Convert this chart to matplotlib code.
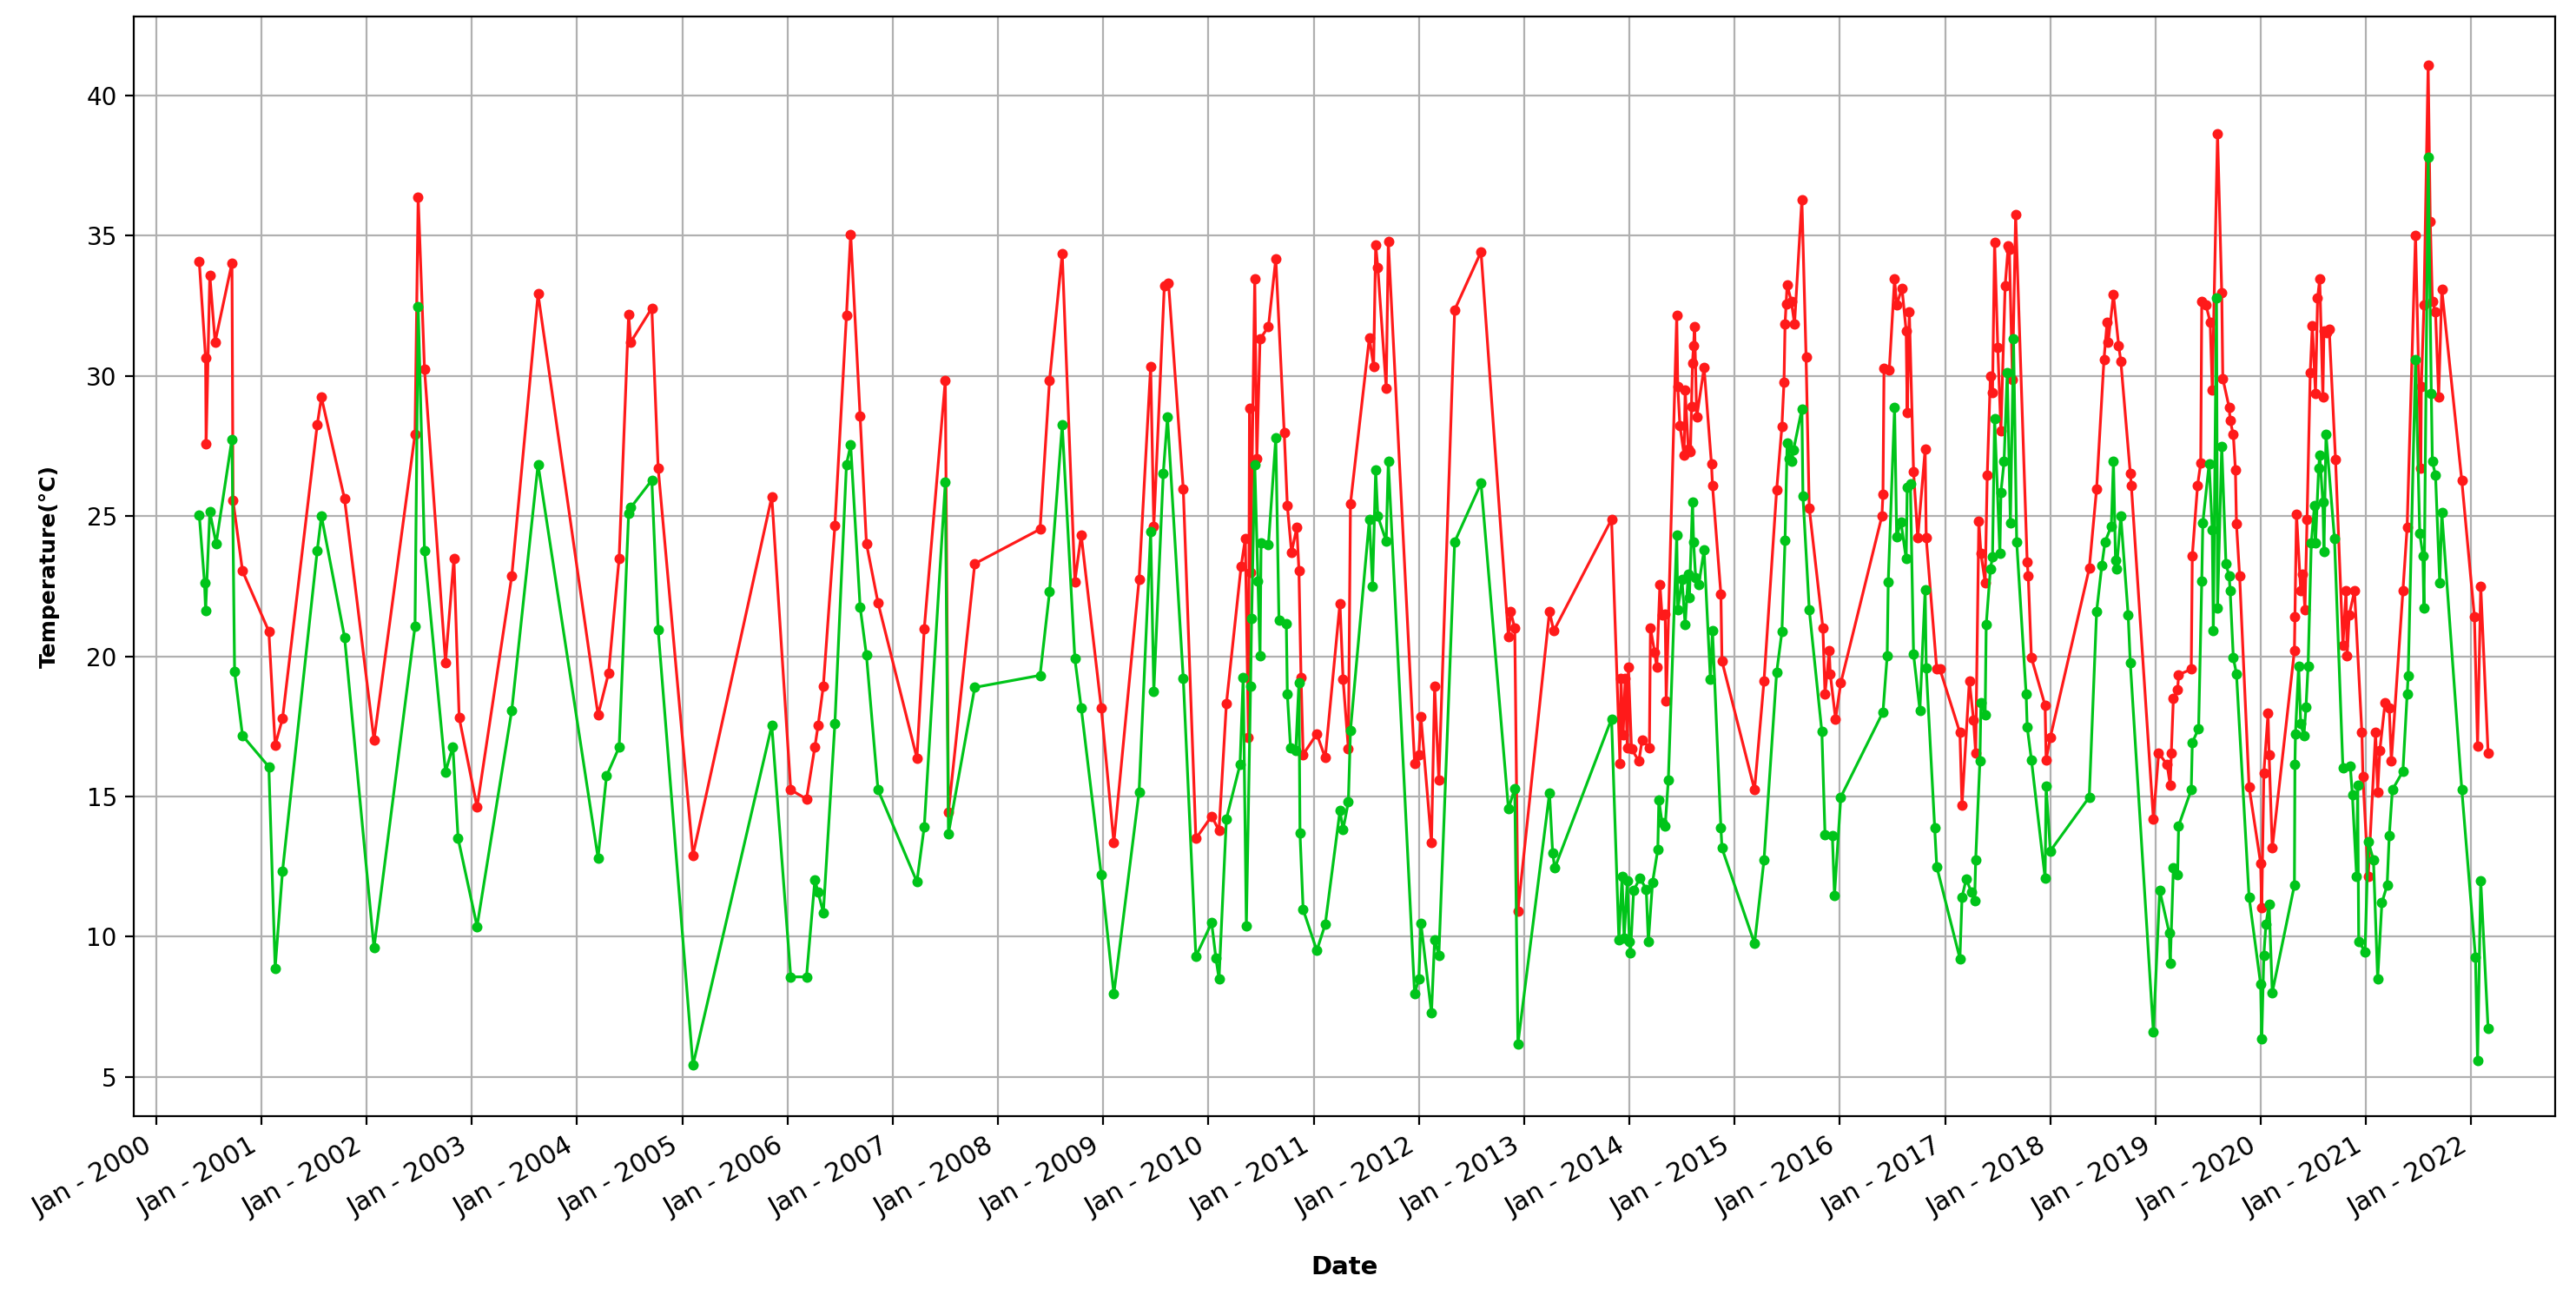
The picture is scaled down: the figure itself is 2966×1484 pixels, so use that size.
import numpy as np
import matplotlib
matplotlib.use("Agg")
import matplotlib.pyplot as plt
import matplotlib.dates as mdates
from datetime import datetime

# dates as decimal years
max_years = [2000.41, 2000.47, 2000.475, 2000.51, 2000.56, 2000.72, 2000.73, 2000.82, 2001.07, 2001.13,
             2001.20, 2001.53, 2001.57, 2001.79, 2002.07, 2002.46, 2002.49, 2002.55, 2002.75, 2002.83,
             2002.88, 2003.05, 2003.38, 2003.63, 2004.20, 2004.30, 2004.40, 2004.49, 2004.51, 2004.71,
             2004.77, 2005.10, 2005.85, 2006.03, 2006.18, 2006.26, 2006.29, 2006.34, 2006.45, 2006.56,
             2006.60, 2006.69, 2006.75, 2006.86, 2007.23, 2007.30, 2007.50, 2007.53, 2007.78, 2008.40,
             2008.49, 2008.61, 2008.73, 2008.79, 2008.98, 2009.10, 2009.34, 2009.45, 2009.48, 2009.58,
             2009.62, 2009.76, 2009.88, 2010.03, 2010.10, 2010.17, 2010.31, 2010.35, 2010.38, 2010.39,
             2010.40, 2010.44, 2010.46, 2010.49, 2010.57, 2010.64, 2010.72, 2010.75, 2010.79, 2010.84,
             2010.86, 2010.88, 2010.90, 2011.03, 2011.11, 2011.25, 2011.28, 2011.33, 2011.35, 2011.53,
             2011.57, 2011.59, 2011.61, 2011.69, 2011.71, 2011.96, 2012.00, 2012.02, 2012.12, 2012.15,
             2012.19, 2012.34, 2012.59, 2012.85, 2012.87, 2012.91, 2012.94, 2013.24, 2013.28, 2013.83,
             2013.91, 2013.92, 2013.94, 2013.96, 2013.98, 2013.99, 2014.02, 2014.09, 2014.12, 2014.19,
             2014.20, 2014.24, 2014.26, 2014.29, 2014.31, 2014.34, 2014.35, 2014.45, 2014.46, 2014.48,
             2014.52, 2014.53, 2014.56, 2014.58, 2014.59, 2014.60, 2014.61, 2014.62, 2014.64, 2014.71,
             2014.78, 2014.79, 2014.87, 2014.88, 2015.19, 2015.28, 2015.40, 2015.45, 2015.47, 2015.48,
             2015.49, 2015.50, 2015.54, 2015.57, 2015.64, 2015.68, 2015.71, 2015.84, 2015.86, 2015.90,
             2015.91, 2015.96, 2016.01, 2016.40, 2016.41, 2016.42, 2016.47, 2016.52, 2016.54, 2016.59,
             2016.63, 2016.64, 2016.66, 2016.70, 2016.74, 2016.81, 2016.82, 2016.92, 2016.95, 2017.14,
             2017.16, 2017.23, 2017.27, 2017.29, 2017.32, 2017.34, 2017.38, 2017.40, 2017.43, 2017.45,
             2017.47, 2017.50, 2017.53, 2017.57, 2017.60, 2017.61, 2017.64, 2017.67, 2017.78, 2017.79,
             2017.82, 2017.95, 2017.96, 2018.00, 2018.37, 2018.44, 2018.51, 2018.54, 2018.55, 2018.60,
             2018.65, 2018.67, 2018.76, 2018.77, 2018.98, 2019.03, 2019.11, 2019.14, 2019.15, 2019.17,
             2019.21, 2019.22, 2019.34, 2019.35, 2019.40, 2019.43, 2019.44, 2019.48, 2019.52, 2019.54,
             2019.59, 2019.63, 2019.64, 2019.70, 2019.71, 2019.74, 2019.76, 2019.77, 2019.80, 2019.89,
             2020.00, 2020.01, 2020.03, 2020.07, 2020.08, 2020.11, 2020.32, 2020.325, 2020.34, 2020.38,
             2020.40, 2020.42, 2020.44, 2020.47, 2020.49, 2020.52, 2020.54, 2020.56, 2020.59, 2020.60,
             2020.63, 2020.65, 2020.71, 2020.78, 2020.81, 2020.82, 2020.84, 2020.89, 2020.96, 2020.97,
             2021.02, 2021.09, 2021.11, 2021.13, 2021.18, 2021.22, 2021.24, 2021.35, 2021.39, 2021.47,
             2021.52, 2021.525, 2021.55, 2021.59, 2021.61, 2021.63, 2021.66, 2021.69, 2021.72, 2021.91,
             2022.03, 2022.06, 2022.09, 2022.16]
max_temp = [34.07, 30.64, 27.56, 33.59, 31.2, 34.02, 25.56, 23.04, 20.89, 16.83,
            17.78, 28.25, 29.23, 25.61, 17.01, 27.92, 36.38, 30.25, 19.78, 23.5,
            17.81, 14.62, 22.86, 32.92, 17.91, 19.4, 23.5, 32.18, 31.2, 32.41,
            26.71, 12.91, 25.69, 15.24, 14.91, 16.78, 17.53, 18.94, 24.66, 32.15,
            35.05, 28.56, 24.02, 21.91, 16.37, 20.99, 29.84, 14.45, 23.3, 24.53,
            29.84, 34.36, 22.66, 24.33, 18.17, 13.35, 22.74, 30.34, 24.64, 33.2,
            33.3, 25.97, 13.5, 14.3, 13.79, 18.3, 23.2, 24.2, 17.1, 28.83,
            23.0, 33.45, 27.06, 31.31, 31.75, 34.17, 27.99, 25.36, 23.71, 24.59,
            23.06, 19.25, 16.5, 17.23, 16.38, 21.89, 19.17, 16.7, 25.44, 31.36,
            30.34, 34.66, 33.86, 29.56, 34.78, 16.19, 16.5, 17.84, 13.35, 18.93,
            15.58, 32.35, 34.42, 20.7, 21.6, 21.0, 10.92, 21.6, 20.9, 24.88,
            16.19, 19.2, 17.2, 19.2, 16.75, 19.6, 16.7, 16.26, 17.0, 16.75,
            21.0, 20.15, 19.61, 22.57, 21.48, 21.5, 18.4, 32.16, 29.61, 28.23,
            27.18, 29.49, 27.4, 27.3, 28.9, 30.46, 31.07, 31.75, 28.52, 30.29,
            26.87, 26.09, 22.21, 19.83, 15.24, 19.13, 25.92, 28.2, 29.78, 31.84,
            32.57, 33.25, 32.65, 31.84, 36.29, 30.66, 25.29, 21.0, 18.64, 20.19,
            19.37, 17.77, 19.05, 25.0, 25.78, 30.27, 30.22, 33.45, 32.52, 33.13,
            31.6, 28.69, 32.28, 26.58, 24.22, 27.38, 24.22, 19.54, 19.54, 17.28,
            14.68, 19.13, 17.72, 16.55, 24.81, 23.67, 22.62, 26.46, 29.98, 29.4,
            34.76, 31.02, 28.03, 33.2, 34.64, 34.5, 29.85, 35.75, 23.35, 22.86,
            19.95, 18.25, 16.31, 17.11, 23.13, 25.97, 30.58, 31.92, 31.19, 32.89,
            31.07, 30.53, 26.53, 26.09, 14.2, 16.55, 16.14, 15.41, 16.55, 18.5,
            18.81, 19.34, 19.54, 23.59, 26.09, 26.89, 32.65, 32.52, 31.92, 29.49,
            38.64, 32.96, 29.9, 28.88, 28.4, 27.9, 26.65, 24.71, 22.86, 15.34,
            12.62, 11.04, 15.83, 17.96, 16.5, 13.16, 20.19, 21.4, 25.07, 22.33,
            22.94, 21.65, 24.88, 30.1, 31.8, 29.37, 32.77, 33.45, 29.25, 31.6,
            31.55, 31.67, 27.01, 20.39, 22.33, 20.02, 21.48, 22.33, 17.28, 15.7,
            12.14, 17.28, 15.17, 16.63, 18.33, 18.16, 16.26, 22.33, 24.59, 35.02,
            26.7, 29.61, 32.52, 41.07, 35.49, 32.65, 32.28, 29.25, 33.08, 26.26,
            21.41, 16.8, 22.5, 16.55]

min_years = [2000.41, 2000.46, 2000.47, 2000.51, 2000.57, 2000.72, 2000.745, 2000.82, 2001.07, 2001.13,
             2001.20, 2001.53, 2001.57, 2001.79, 2002.07, 2002.46, 2002.49, 2002.55, 2002.75, 2002.82,
             2002.87, 2003.05, 2003.38, 2003.63, 2004.20, 2004.28, 2004.40, 2004.49, 2004.51, 2004.71,
             2004.77, 2005.10, 2005.85, 2006.03, 2006.18, 2006.26, 2006.29, 2006.34, 2006.45, 2006.56,
             2006.60, 2006.69, 2006.75, 2006.86, 2007.23, 2007.30, 2007.50, 2007.53, 2007.78, 2008.40,
             2008.49, 2008.61, 2008.73, 2008.79, 2008.98, 2009.10, 2009.34, 2009.45, 2009.48, 2009.57,
             2009.61, 2009.76, 2009.88, 2010.03, 2010.07, 2010.10, 2010.17, 2010.30, 2010.33, 2010.36,
             2010.40, 2010.41, 2010.44, 2010.47, 2010.49, 2010.50, 2010.57, 2010.64, 2010.67, 2010.74,
             2010.75, 2010.78, 2010.83, 2010.86, 2010.87, 2010.90, 2011.03, 2011.11, 2011.25, 2011.28,
             2011.33, 2011.35, 2011.53, 2011.56, 2011.59, 2011.61, 2011.69, 2011.71, 2011.96, 2012.00,
             2012.02, 2012.12, 2012.15, 2012.19, 2012.34, 2012.59, 2012.85, 2012.91, 2012.94, 2013.24,
             2013.27, 2013.29, 2013.83, 2013.90, 2013.93, 2013.95, 2013.98, 2014.00, 2014.01, 2014.04,
             2014.10, 2014.16, 2014.18, 2014.22, 2014.27, 2014.28, 2014.31, 2014.34, 2014.37, 2014.45,
             2014.46, 2014.50, 2014.53, 2014.56, 2014.57, 2014.60, 2014.61, 2014.63, 2014.66, 2014.71,
             2014.77, 2014.79, 2014.87, 2014.88, 2015.19, 2015.28, 2015.40, 2015.45, 2015.48, 2015.50,
             2015.52, 2015.54, 2015.56, 2015.64, 2015.65, 2015.71, 2015.83, 2015.86, 2015.93, 2015.95,
             2016.01, 2016.41, 2016.45, 2016.46, 2016.52, 2016.54, 2016.58, 2016.63, 2016.64, 2016.67,
             2016.70, 2016.76, 2016.81, 2016.82, 2016.90, 2016.92, 2017.14, 2017.16, 2017.20, 2017.25,
             2017.28, 2017.29, 2017.33, 2017.34, 2017.38, 2017.39, 2017.43, 2017.45, 2017.47, 2017.52,
             2017.53, 2017.56, 2017.59, 2017.62, 2017.65, 2017.68, 2017.77, 2017.78, 2017.82, 2017.95,
             2017.96, 2018.00, 2018.37, 2018.44, 2018.49, 2018.52, 2018.58, 2018.60, 2018.62, 2018.63,
             2018.67, 2018.74, 2018.76, 2018.98, 2019.04, 2019.13, 2019.14, 2019.17, 2019.21, 2019.22,
             2019.34, 2019.35, 2019.41, 2019.44, 2019.45, 2019.51, 2019.54, 2019.55, 2019.58, 2019.59,
             2019.63, 2019.67, 2019.70, 2019.71, 2019.74, 2019.77, 2019.89, 2020.00, 2020.01, 2020.03,
             2020.05, 2020.08, 2020.11, 2020.32, 2020.325, 2020.33, 2020.36, 2020.38, 2020.41, 2020.43,
             2020.45, 2020.48, 2020.51, 2020.52, 2020.55, 2020.56, 2020.59, 2020.60, 2020.62, 2020.70,
             2020.78, 2020.85, 2020.87, 2020.91, 2020.92, 2020.93, 2020.99, 2021.02, 2021.07, 2021.11,
             2021.15, 2021.20, 2021.22, 2021.25, 2021.35, 2021.39, 2021.40, 2021.47, 2021.51, 2021.54,
             2021.55, 2021.59, 2021.62, 2021.63, 2021.66, 2021.70, 2021.72, 2021.91, 2022.04, 2022.06,
             2022.09, 2022.16]
min_temp = [25.04, 22.61, 21.63, 25.15, 24.02, 27.74, 19.45, 17.17, 16.06, 8.88,
            12.34, 23.76, 25.0, 20.68, 9.6, 21.07, 32.48, 23.76, 15.88, 16.78,
            13.5, 10.37, 18.07, 26.84, 12.81, 15.73, 16.76, 25.1, 25.3, 26.28,
            20.94, 5.42, 17.53, 8.57, 8.57, 12.04, 11.58, 10.86, 17.6, 26.84,
            27.53, 21.76, 20.04, 15.24, 11.96, 13.93, 26.2, 13.68, 18.89, 19.32,
            22.3, 28.25, 19.91, 18.17, 12.22, 7.96, 15.17, 24.44, 18.74, 26.53,
            28.52, 19.22, 9.3, 10.5, 9.25, 8.5, 14.2, 16.14, 19.25, 10.4,
            18.93, 21.36, 26.82, 22.69, 20.02, 24.03, 23.98, 27.79, 21.29, 21.17,
            18.64, 16.75, 16.63, 19.05, 13.71, 10.97, 9.51, 10.44, 14.49, 13.83,
            14.81, 17.35, 24.88, 22.5, 26.63, 25.0, 24.1, 26.94, 7.96, 8.5,
            10.49, 7.28, 9.9, 9.34, 24.08, 26.17, 14.56, 15.29, 6.19, 15.12,
            12.99, 12.45, 17.77, 9.9, 12.14, 9.95, 12.0, 9.83, 9.42, 11.65,
            12.09, 11.7, 9.83, 11.94, 13.11, 14.88, 14.08, 13.96, 15.58, 24.32,
            21.65, 22.74, 21.12, 22.94, 22.09, 25.49, 24.08, 22.8, 22.57, 23.79,
            19.17, 20.92, 13.88, 13.16, 9.76, 12.74, 19.42, 20.87, 24.15, 27.6,
            27.06, 26.94, 27.35, 28.81, 25.73, 21.67, 17.31, 13.64, 13.6, 11.48,
            14.98, 18.01, 20.02, 22.65, 28.88, 24.27, 24.8, 23.47, 26.04, 26.14,
            20.07, 18.08, 22.38, 19.59, 13.88, 12.5, 9.22, 11.41, 12.06, 11.58,
            11.29, 12.74, 16.26, 18.33, 17.91, 21.12, 23.11, 23.55, 28.47, 23.67,
            25.85, 26.94, 30.1, 24.76, 31.31, 24.08, 18.64, 17.48, 16.31, 12.09,
            15.36, 13.06, 14.98, 21.6, 23.25, 24.08, 24.64, 26.94, 23.42, 23.11,
            25.0, 21.48, 19.78, 6.6, 11.65, 10.15, 9.05, 12.45, 12.21, 13.96,
            15.24, 16.92, 17.43, 22.69, 24.76, 26.87, 24.51, 20.92, 32.77, 21.72,
            27.48, 23.3, 22.86, 22.33, 19.95, 19.37, 11.41, 8.3, 6.36, 9.34,
            10.44, 11.17, 8.01, 11.84, 16.14, 17.23, 19.66, 17.6, 17.16, 18.2,
            19.66, 24.03, 25.36, 24.03, 26.7, 27.18, 25.49, 23.74, 27.91, 24.2,
            16.02, 16.07, 15.05, 12.14, 15.41, 9.83, 9.47, 13.4, 12.74, 8.5,
            11.21, 11.84, 13.6, 15.24, 15.9, 18.64, 19.3, 30.58, 24.39, 23.59,
            21.72, 37.79, 29.37, 26.94, 26.46, 22.62, 25.12, 15.24, 9.27, 5.58,
            12.01, 6.72]


def to_dates(years):
    out = []
    for y in years:
        yr = int(y)
        start = datetime(yr, 1, 1)
        end = datetime(yr + 1, 1, 1)
        out.append(start + (end - start) * (y - yr))
    return out


fig = plt.figure(figsize=(14.83, 7.42), dpi=200)
ax = fig.add_axes([0.052, 0.134, 0.940, 0.853])

ax.plot(to_dates(max_years), max_temp, color='#ff1a1a', marker='o', markersize=3.3, linewidth=1.15)
ax.plot(to_dates(min_years), min_temp, color='#00c41a', marker='o', markersize=3.3, linewidth=1.15)

ax.set_xlim(to_dates([1999.79])[0], to_dates([2022.80])[0])
ax.set_ylim(3.6, 42.8)
ax.xaxis.set_major_locator(mdates.YearLocator())
ax.xaxis.set_major_formatter(mdates.DateFormatter('%b - %Y'))
ax.set_yticks(np.arange(5, 45, 5))
ax.tick_params(axis='y', labelsize=10)
ax.tick_params(axis='x', labelsize=10.8)
for lab in ax.get_xticklabels():
    lab.set_rotation(30)
    lab.set_ha('right')
ax.grid(True, color='#b0b0b0', linewidth=0.8)
ax.set_xlabel('Date', fontsize=10.5, fontweight='bold', labelpad=14)
ax.set_ylabel('Temperature(°C)', fontsize=9, fontweight='bold', labelpad=11)

fig.savefig('out.png', dpi=200)
